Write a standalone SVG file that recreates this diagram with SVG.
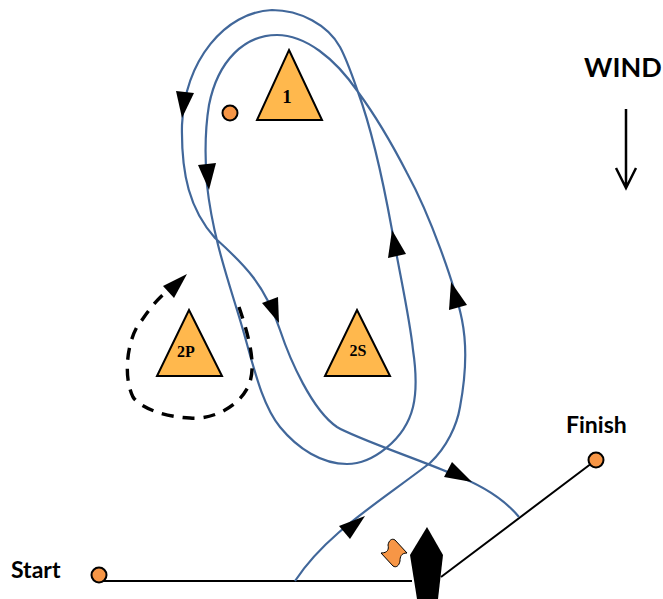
<svg xmlns="http://www.w3.org/2000/svg" width="663" height="599" viewBox="0 0 663 599">
<style>
.tri{fill:#ffb84d;stroke:#000;stroke-width:2}
.dot{fill:#f79646;stroke:#000;stroke-width:2}
.lbl{font-family:"Liberation Serif",serif;font-weight:bold;text-anchor:middle;fill:#000}
.cap{font-family:Lato,"Liberation Sans",sans-serif;font-weight:bold;fill:#000}
.line{fill:none;stroke:#000;stroke-width:2}
.course{fill:none;stroke:#41679a;stroke-width:2.2}
.head{fill:#000}
</style>
<rect width="663" height="599" fill="#fff"/>
<g id="connectors">
<path class="line" d="M99 581H412M441 577L596 460"/>
<path class="course" d="M295 581C325 535 375 505 430 463C447 447 457 425 460 407C466 375 467 345 462 320C455 285 430 215 407 173C390 140 375 115 358 92C335 58 305 35 277 35C245 35 218 60 209 105C204 135 205 160 207 185C213 240 230 285 243 330C254 368 262 405 280 427C298 449 322 464 347 464C372 464 405 440 413 407C417 390 416 370 413 350C410 320 401 280 392 230C382 175 372 130 358 92C352 75 347 60 340 47C328 25 300 10 272 10C225 12 185 60 182 125C181 175 190 210 215 238C245 265 265 285 280 330C290 360 312 410 337 427C355 438 420 460 450 473C480 484 505 500 519 517"/>
<path d="M239 307C252 345 256 370 248 387C235 412 205 420 190 418C165 417 140 408 133 397C122 375 128 335 142 320C150 308 157 300 166 292" fill="none" stroke="#000" stroke-width="3.4" stroke-dasharray="12 9"/>
<polygon class="head" points="187,274 174,298 163,286"/>
<polygon class="head" points="176,91 194,93 182,118"/>
<polygon class="head" points="198,165 216,163 209,190"/>
<polygon class="head" points="262,303 278,297 279,323"/>
<polygon class="head" points="392,230 388,258 406,254"/>
<polygon class="head" points="451,282 449,310 467,305"/>
<polygon class="head" points="339,526 350,539 365,516"/>
<polygon class="head" points="452,462 444,477 472,482"/>
<path d="M626 109V187M616 168L626 188L636 168" fill="none" stroke="#000" stroke-width="2.5"/>
</g>
<g id="mark-1"><polygon class="tri" points="289,50 322,120 257,120"/><text class="lbl" x="287" y="103" font-size="19">1</text></g>
<g id="mark-2p"><polygon class="tri" points="189,310 222,376 157,376"/><text class="lbl" x="186" y="357" font-size="16">2P</text></g>
<g id="mark-2s"><polygon class="tri" points="357,310 390,376 325,376"/><text class="lbl" x="358" y="356" font-size="16">2S</text></g>
<g id="pin"><circle class="dot" cx="230" cy="113" r="7.5"/></g>
<g id="start"><circle class="dot" cx="99" cy="575" r="7.5"/><text class="cap" x="11" y="578" font-size="23">Start</text></g>
<g id="finish"><circle class="dot" cx="596" cy="460" r="7.5"/><text class="cap" x="566" y="433" font-size="23">Finish</text></g>
<g id="wind"><text class="cap" x="584" y="77" font-size="27">WIND</text></g>
<g id="boat"><polygon points="427,527 443,555 438,599 417,599 410,555" fill="#000"/></g>
<g id="buoy"><path d="M381 553C388 553 389 549 388 545C389 540 392 538 395 540L407 553C401 553 400 557 400 561C399 566 396 568 393 566Z" fill="#f79646" stroke="#000" stroke-width="1"/></g>
</svg>
